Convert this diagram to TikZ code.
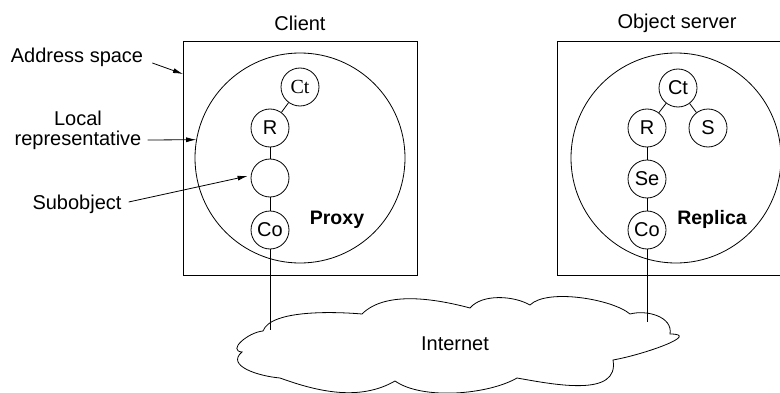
\documentclass[tikz,border=0pt]{standalone}
\usepackage{fontspec}
\setmainfont{Liberation Sans}
\newfontfamily\serifct{Liberation Serif}
\usetikzlibrary{arrows.meta}
\begin{document}
\begin{tikzpicture}[x=1pt,y=1pt,
  every node/.style={font=\fontsize{20}{24}\selectfont},
  obj/.style={draw,circle,line width=0.8pt,minimum size=38pt,inner sep=0pt},
  big/.style={draw,circle,line width=0.8pt,minimum size=210pt,inner sep=0pt},
  boxline/.style={line width=0.8pt},
  conn/.style={line width=0.8pt},
  arr/.style={line width=0.8pt,-{Latex[length=10pt,width=5pt]}},
  lbl/.style={inner sep=0pt},
  bold/.style={font=\fontsize{19.5}{22}\selectfont\bfseries,inner sep=0pt}]
\clip (0,0) rectangle (780,392);
\fill[white] (0,0) rectangle (780,392);
% boxes
\draw[boxline] (183,117) rectangle (417,351);
\draw[boxline] (557,117) rectangle (800,351);
\node[lbl] (client) at (300,369) {Client};
\node[lbl] (oserver) at (677,369) {Object server};
% client
\node[big] (cbig) at (300,234) {};
\node[obj,font=\fontsize{20}{24}\selectfont\serifct] (cct) at (300,305) {Ct};
\node[obj] (cr) at (270,264) {R};
\node[obj] (csub) at (270,214) {};
\node[obj] (cco) at (270,162) {Co};
\node[bold] (proxy) at (337,172) {Proxy};
\draw[conn] (cct) -- (cr);
\draw[conn] (cr) -- (csub);
\draw[conn] (csub) -- (cco);
\coordinate (cend) at (270,62);
% server
\node[big] (sbig) at (676,234) {};
\node[obj] (sct) at (678,304) {Ct};
\node[obj] (sr) at (647,264) {R};
\node[obj] (ss) at (708,264) {S};
\node[obj] (sse) at (647,213) {Se};
\node[obj] (sco) at (647,162) {Co};
\node[bold] (replica) at (712,173) {Replica};
\draw[conn] (sct) -- (sr);
\draw[conn] (sct) -- (ss);
\draw[conn] (sr) -- (sse);
\draw[conn] (sse) -- (sco);
\coordinate (send) at (647,70);
% left labels
\node[lbl] (addr) at (77,335) {Address space};
\node[lbl] (local) at (78,274) {Local};
\node[lbl] (repr) at (78,252) {representative};
\node[lbl] (subo) at (77,188) {Subobject};
\coordinate (addrtip) at (183,318);
\draw[arr] ([shift={(9,-6)}]addr.east) -- (addrtip);
\draw[arr] ([xshift=6pt]repr.east) -- (cbig.170);
\draw[arr] ([xshift=7pt,yshift=2pt]subo.east) -- ([xshift=-3pt,yshift=2pt]csub.west);
% cloud
\draw[conn,fill=white]
  (263,61) to[out=70,in=175,looseness=0.6] (362,78)
  to[out=45,in=165,looseness=0.8] (470,84)
  to[out=50,in=150,looseness=0.8] (530,87)
  to[out=45,in=140,looseness=0.6] (630,78)
  to[out=15,in=80] (670,58)
  to[out=0,in=10,looseness=1.3] (613,32)
  to[out=-80,in=-10] (517,14)
  to[out=-150,in=-35,looseness=0.7] (395,11)
  to[out=-150,in=-20,looseness=0.9] (280,14)
  to[out=175,in=-140,looseness=1.2] (242,40)
  to[out=175,in=185,looseness=1.3] (263,61) -- cycle;
\draw[conn] (cco) -- (cend);
\draw[conn] (sco) -- (send);
\node[lbl] (inet) at (455,48) {Internet};
\end{tikzpicture}
\end{document}
